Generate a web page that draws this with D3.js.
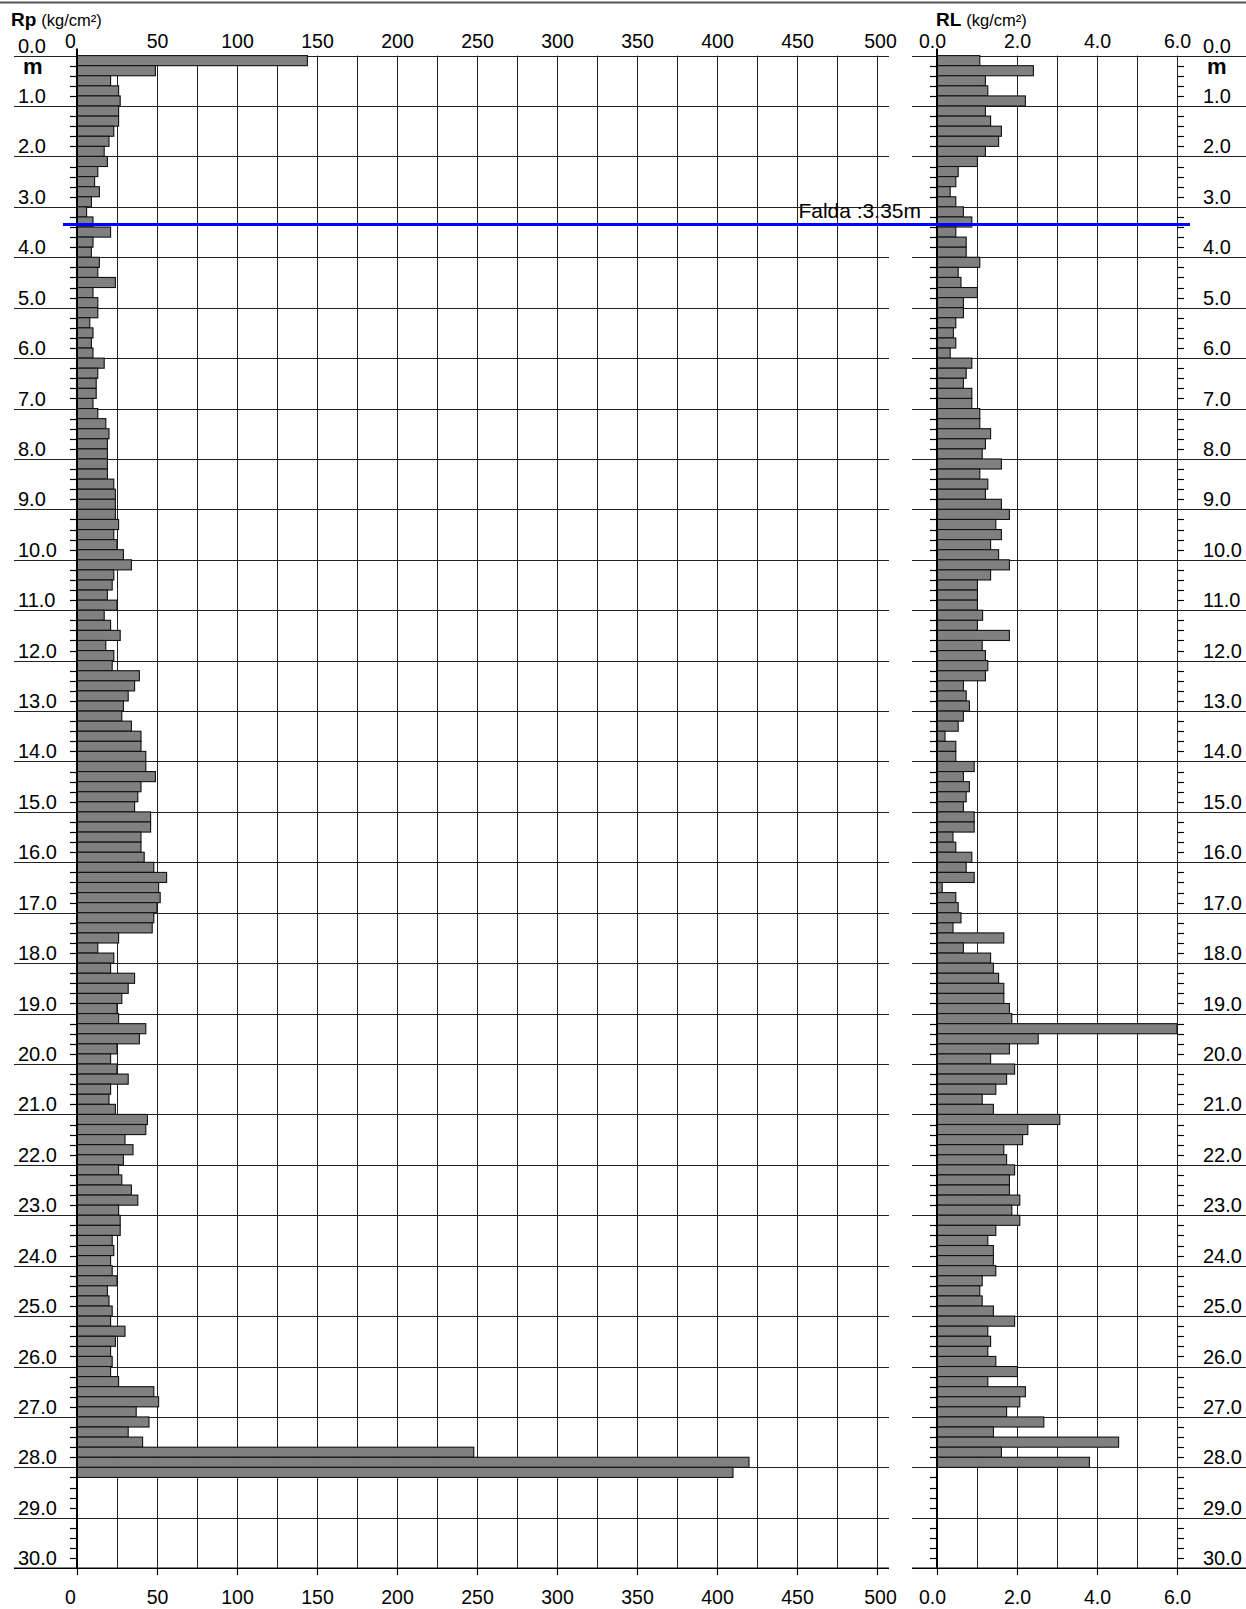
<!DOCTYPE html>
<html>
<head>
<meta charset="utf-8">
<script src="https://cdn.jsdelivr.net/npm/d3@7"></script>
<style>
  html, body { margin: 0; padding: 0; background: #fff; }
  svg { display: block; font-family: "Liberation Sans", Arial, Helvetica, sans-serif; }
</style>
</head>
<body>
<script>
// ---------------- DATA ----------------
const rpTicks = [0, 50, 100, 150, 200, 250, 300, 350, 400, 450, 500];
const rlTicks = [0, 2, 4, 6];
const rlTickLabels = ["0.0", "2.0", "4.0", "6.0"];
const depthTicks = d3.range(0, 31);          // 0.0 ... 30.0 m
const waterTable = 3.35;                      // Falda
const step = 0.2;

// Rp (kg/cm²), one value every 0.2 m starting at 0.0 m (0.0 ... 28.0)
const rpValues = [
  144, 49, 21, 26, 27, 26, 26, 23, 20, 17,
  19, 13, 11, 14, 9, 6, 10, 21, 10, 9,
  14, 13, 24, 10, 13, 13, 8, 10, 9, 10,
  17, 13, 12, 12, 10, 13, 18, 20, 19, 19,
  19, 19, 23, 24, 24, 24, 26, 23, 25, 29,
  34, 23, 22, 19, 25, 17, 21, 27, 18, 23,
  22, 39, 36, 32, 29, 28, 34, 40, 40, 43,
  43, 49, 40, 38, 36, 46, 46, 40, 40, 42,
  48, 56, 51, 52, 50, 48, 47, 26, 13, 23,
  21, 36, 32, 28, 25, 26, 43, 39, 25, 21,
  25, 32, 21, 20, 24, 44, 43, 30, 35, 29,
  26, 28, 34, 38, 26, 27, 27, 22, 23, 21,
  22, 25, 19, 20, 22, 21, 30, 24, 21, 22,
  21, 26, 48, 51, 37, 45, 32, 41, 248, 420,
  410
];

// RL (kg/cm²), one value every 0.2 m starting at 0.0 m (0.0 ... 27.8)
const rlValues = [
  1.07, 2.41, 1.21, 1.27, 2.21, 1.21, 1.34, 1.61, 1.54, 1.21,
  1.01, 0.53, 0.47, 0.33, 0.47, 0.66, 0.87, 0.47, 0.73, 0.73,
  1.07, 0.53, 0.60, 1.01, 0.66, 0.66, 0.47, 0.41, 0.47, 0.33,
  0.87, 0.73, 0.66, 0.87, 0.87, 1.07, 1.07, 1.34, 1.21, 1.13,
  1.61, 1.07, 1.27, 1.21, 1.61, 1.81, 1.47, 1.61, 1.34, 1.54,
  1.81, 1.34, 1.01, 1.01, 1.01, 1.14, 1.01, 1.81, 1.13, 1.21,
  1.27, 1.21, 0.66, 0.73, 0.81, 0.66, 0.53, 0.20, 0.47, 0.47,
  0.93, 0.66, 0.81, 0.73, 0.66, 0.93, 0.93, 0.40, 0.47, 0.87,
  0.73, 0.93, 0.13, 0.47, 0.53, 0.60, 0.40, 1.67, 0.66, 1.34,
  1.41, 1.54, 1.67, 1.67, 1.81, 1.87, 6.00, 2.53, 1.81, 1.34,
  1.94, 1.74, 1.47, 1.13, 1.41, 3.07, 2.27, 2.14, 1.67, 1.74,
  1.94, 1.81, 1.81, 2.07, 1.87, 2.07, 1.47, 1.27, 1.41, 1.41,
  1.47, 1.13, 1.07, 1.13, 1.41, 1.94, 1.27, 1.34, 1.27, 1.47,
  2.01, 1.27, 2.21, 2.07, 1.74, 2.67, 1.41, 4.54, 1.61, 3.81
];

// ---------------- LAYOUT ----------------
const W = 1246, H = 1609;
const y = d3.scaleLinear().domain([0, 30]).range([55.6, 1568.2]);
const xRp = d3.scaleLinear().domain([0, 500]).range([77, 877]);
const xRL = d3.scaleLinear().domain([0, 6]).range([937, 1177]);
const snap = v => Math.round(v) + 0.5;
const leftLine = [14, 889], rightLine = [912, 1246];
const gridColor = "#222";
const numFont = 19.5;

const svg = d3.select("body").append("svg").attr("width", W).attr("height", H);

// top border
svg.append("line").attr("x1", 0).attr("x2", W).attr("y1", 2.5).attr("y2", 2.5)
  .attr("stroke", "#555").attr("stroke-width", 2);

// vertical grid - Rp every 25
const rpGrid = d3.range(25, 501, 25);
svg.append("g").selectAll("line").data(rpGrid).join("line")
  .attr("x1", d => snap(xRp(d))).attr("x2", d => snap(xRp(d)))
  .attr("y1", y(0)).attr("y2", y(30))
  .attr("stroke", gridColor).attr("stroke-width", 1);
// vertical grid - RL every 1
svg.append("g").selectAll("line").data(d3.range(1, 7)).join("line")
  .attr("x1", d => snap(xRL(d))).attr("x2", d => snap(xRL(d)))
  .attr("y1", y(0)).attr("y2", y(30))
  .attr("stroke", gridColor).attr("stroke-width", 1);

// horizontal grid every metre
const hg = svg.append("g");
hg.selectAll("line.l").data(depthTicks).join("line").attr("class", "l")
  .attr("x1", leftLine[0]).attr("x2", leftLine[1])
  .attr("y1", d => snap(y(d))).attr("y2", d => snap(y(d)))
  .attr("stroke", gridColor).attr("stroke-width", 1.2);
hg.selectAll("line.r").data(depthTicks).join("line").attr("class", "r")
  .attr("x1", rightLine[0]).attr("x2", rightLine[1])
  .attr("y1", d => snap(y(d))).attr("y2", d => snap(y(d)))
  .attr("stroke", gridColor).attr("stroke-width", 1.2);

// minor ticks every 0.2 m
const minor = d3.range(0, 30.01, step).map(v => +v.toFixed(1)).filter(v => Math.abs(v - Math.round(v)) > 1e-6);
const mt = svg.append("g").attr("stroke", "#000").attr("stroke-width", 1.2);
mt.selectAll("line.a").data(minor).join("line").attr("class", "a")
  .attr("x1", xRp(0) - 7).attr("x2", xRp(0)).attr("y1", d => snap(y(d))).attr("y2", d => snap(y(d)));
mt.selectAll("line.b").data(minor).join("line").attr("class", "b")
  .attr("x1", xRL(0) - 7).attr("x2", xRL(0)).attr("y1", d => snap(y(d))).attr("y2", d => snap(y(d)));
mt.selectAll("line.c").data(minor).join("line").attr("class", "c")
  .attr("x1", xRL(6)).attr("x2", xRL(6) + 7).attr("y1", d => snap(y(d))).attr("y2", d => snap(y(d)));

// bars
const rpData = rpValues.map((v, i) => ({ d: +(i * step).toFixed(1), v }));
const rlData = rlValues.map((v, i) => ({ d: +(i * step).toFixed(1), v }));

svg.append("g").selectAll("rect").data(rpData).join("rect")
  .attr("x", xRp(0)).attr("y", d => y(d.d))
  .attr("width", d => xRp(d.v) - xRp(0))
  .attr("height", d => y(d.d + step) - y(d.d))
  .attr("fill", "#808080").attr("stroke", "#111").attr("stroke-width", 1.1);

svg.append("g").selectAll("rect").data(rlData).join("rect")
  .attr("x", xRL(0)).attr("y", d => y(d.d))
  .attr("width", d => xRL(d.v) - xRL(0))
  .attr("height", d => y(d.d + step) - y(d.d))
  .attr("fill", "#808080").attr("stroke", "#111").attr("stroke-width", 1.1);

// zero axes
svg.append("line").attr("x1", xRp(0)).attr("x2", xRp(0)).attr("y1", y(0) - 7).attr("y2", y(30))
  .attr("stroke", "#000").attr("stroke-width", 2);
svg.append("line").attr("x1", xRL(0)).attr("x2", xRL(0)).attr("y1", y(0) - 7).attr("y2", y(30))
  .attr("stroke", "#000").attr("stroke-width", 2);

// top axes labels
const topRp = svg.append("g").attr("transform", `translate(0,${y(0) - 8})`)
  .call(d3.axisTop(xRp).tickValues(rpTicks).tickSize(0).tickPadding(0).tickFormat(d3.format("d")));
const topRL = svg.append("g").attr("transform", `translate(0,${y(0) - 8})`)
  .call(d3.axisTop(xRL).tickValues(rlTicks).tickSize(0).tickPadding(0).tickFormat((d, i) => rlTickLabels[i]));
// bottom axes
const botRp = svg.append("g").attr("transform", `translate(0,${y(30)})`)
  .call(d3.axisBottom(xRp).tickValues(rpTicks).tickSize(7).tickPadding(15).tickFormat(d3.format("d")));
const botRL = svg.append("g").attr("transform", `translate(0,${y(30)})`)
  .call(d3.axisBottom(xRL).tickValues(rlTicks).tickSize(7).tickPadding(15).tickFormat((d, i) => rlTickLabels[i]));

[topRp, topRL, botRp, botRL].forEach(g => {
  g.select(".domain").remove();
  g.selectAll("text").attr("font-size", numFont).attr("fill", "#000")
    .attr("font-family", "'Liberation Sans', Arial, sans-serif");
  g.selectAll(".tick line").attr("stroke", "#000").attr("stroke-width", 1.2);
});
[topRp, botRp].forEach(g => {
  g.selectAll(".tick text").attr("dx", (d) => d === 0 ? -7 : (d === 500 ? 3 : 0));
});
[topRL, botRL].forEach(g => {
  g.selectAll(".tick text").attr("dx", (d) => d === 0 ? -5 : 0);
});
// bottom baseline lines
svg.append("line").attr("x1", leftLine[0]).attr("x2", leftLine[1]).attr("y1", y(30)).attr("y2", y(30))
  .attr("stroke", "#000").attr("stroke-width", 1.5);
svg.append("line").attr("x1", rightLine[0]).attr("x2", rightLine[1]).attr("y1", y(30)).attr("y2", y(30))
  .attr("stroke", "#000").attr("stroke-width", 1.5);

// depth labels left & right
const fmt1 = d3.format(".1f");
svg.append("g").selectAll("text").data(depthTicks).join("text")
  .attr("x", 18).attr("y", d => y(d) - 3)
  .attr("font-size", 20).text(d => fmt1(d));
svg.append("g").selectAll("text").data(depthTicks).join("text")
  .attr("x", 1203).attr("y", d => y(d) - 3)
  .attr("font-size", 20).text(d => fmt1(d));

// unit labels
svg.append("text").attr("x", 23).attr("y", 74).attr("font-size", 22).attr("font-weight", "bold").text("m");
svg.append("text").attr("x", 1207).attr("y", 74).attr("font-size", 22).attr("font-weight", "bold").text("m");

// titles
const t1 = svg.append("text").attr("x", 11).attr("y", 26);
t1.append("tspan").attr("font-weight", "bold").attr("font-size", 19).text("Rp");
t1.append("tspan").attr("dx", 5).attr("font-size", 16.5).text("(kg/cm²)");
const t2 = svg.append("text").attr("x", 936).attr("y", 26);
t2.append("tspan").attr("font-weight", "bold").attr("font-size", 19).text("RL");
t2.append("tspan").attr("dx", 5).attr("font-size", 16.5).text("(kg/cm²)");

// water table
svg.append("line").attr("x1", 63).attr("x2", 1190)
  .attr("y1", y(waterTable)).attr("y2", y(waterTable))
  .attr("stroke", "#0000ff").attr("stroke-width", 3);
svg.append("text").attr("x", 921).attr("y", y(waterTable) - 7)
  .attr("text-anchor", "end").attr("font-size", 21).text("Falda :" + waterTable + "m");
</script>
</body>
</html>
